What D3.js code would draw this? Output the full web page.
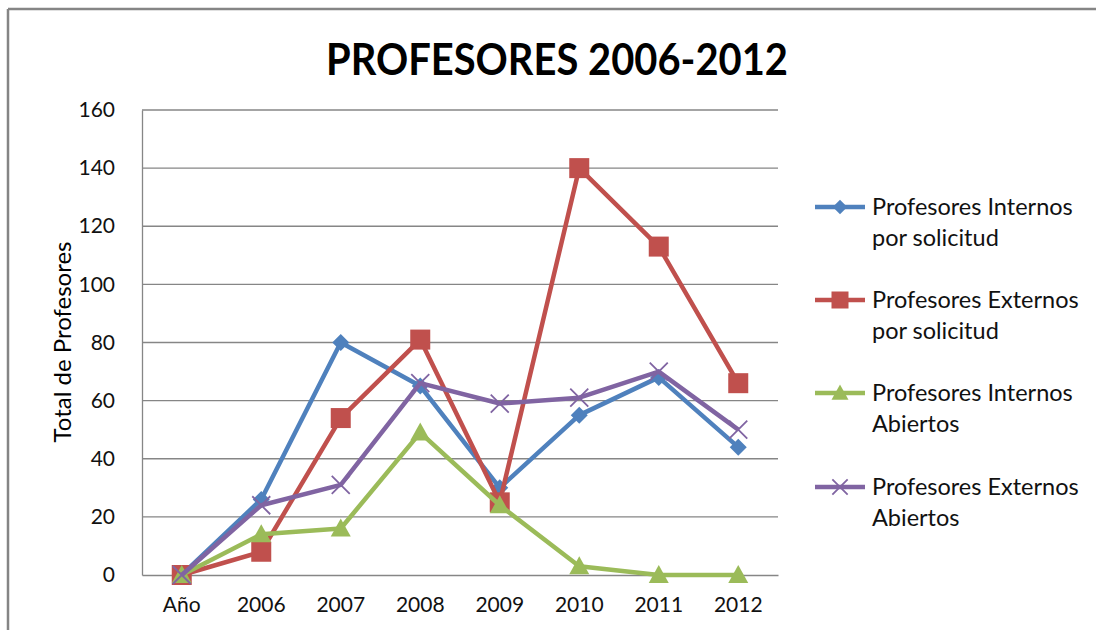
<!DOCTYPE html>
<html>
<head>
<meta charset="utf-8">
<script src="https://cdn.jsdelivr.net/npm/d3@7"></script>
<style>
  html, body { margin: 0; padding: 0; background: #fff; }
  svg { display: block; }
  text { font-family: Lato, "Open Sans", sans-serif; }
</style>
</head>
<body>
<script>
const categories = ["Año", "2006", "2007", "2008", "2009", "2010", "2011", "2012"];
const internosSolicitud = [0, 26, 80, 65, 30, 55, 68, 44];
const externosSolicitud = [0, 8, 54, 81, 25, 140, 113, 66];
const internosAbiertos = [0, 14, 16, 49, 24, 3, 0, 0];
const externosAbiertos = [0, 24, 31, 66, 59, 61, 70, 50];
const yTicks = [0, 20, 40, 60, 80, 100, 120, 140, 160];
const seriesNames = [
  ["Profesores Internos", "por solicitud"],
  ["Profesores Externos", "por solicitud"],
  ["Profesores Internos", "Abiertos"],
  ["Profesores Externos", "Abiertos"]
];
const seriesColors = ["#4F81BD", "#C0504D", "#9BBB59", "#8064A2"];
const seriesMarkers = ["diamond", "square", "triangle", "cross"];
const seriesValues = [internosSolicitud, externosSolicitud, internosAbiertos, externosAbiertos];

const W = 1096, H = 630;
const svg = d3.select("body").append("svg").attr("width", W).attr("height", H);

// chart frame (top + left borders visible)
svg.append("line").attr("x1", 8).attr("x2", W).attr("y1", 9).attr("y2", 9)
  .attr("stroke", "#858585").attr("stroke-width", 2.5);
svg.append("line").attr("x1", 8).attr("x2", 8).attr("y1", 9).attr("y2", H)
  .attr("stroke", "#858585").attr("stroke-width", 2.5);

const plot = { left: 142, right: 778, top: 110, bottom: 575 };

const x = d3.scaleBand().domain(categories).range([plot.left, plot.right]);
const y = d3.scaleLinear().domain([0, 160]).range([plot.bottom, plot.top]);
const cx = c => x(c) + x.bandwidth() / 2;

// title
svg.append("text")
  .attr("x", 557).attr("y", 75)
  .attr("text-anchor", "middle")
  .attr("font-size", 43).attr("font-weight", "bold").attr("fill", "#000")
  .attr("textLength", 462).attr("lengthAdjust", "spacingAndGlyphs")
  .text("PROFESORES 2006-2012");

// gridlines
svg.append("g").selectAll("line").data(yTicks.filter(d => d > 0)).join("line")
  .attr("x1", plot.left).attr("x2", plot.right)
  .attr("y1", d => y(d)).attr("y2", d => y(d))
  .attr("stroke", "#868686").attr("stroke-width", 1.3);

// y axis
const yAxis = svg.append("g").attr("transform", `translate(${plot.left},0)`)
  .call(d3.axisLeft(y).tickValues(yTicks).tickSize(0).tickPadding(27));
yAxis.select(".domain").attr("stroke", "#868686").attr("stroke-width", 1.3);
yAxis.selectAll("text").attr("font-size", 21).attr("fill", "#111")
  .attr("font-family", "Lato, sans-serif");

// x axis
const xAxis = svg.append("g").attr("transform", `translate(0,${plot.bottom})`)
  .call(d3.axisBottom(x).tickSize(0).tickPadding(22));
xAxis.select(".domain").attr("stroke", "#868686").attr("stroke-width", 1.3);
xAxis.selectAll("text").attr("font-size", 21).attr("fill", "#111")
  .attr("font-family", "Lato, sans-serif");

// y axis title
svg.append("text")
  .attr("transform", `translate(71,342) rotate(-90)`)
  .attr("text-anchor", "middle").attr("font-size", 24).attr("fill", "#000")
  .text("Total de Profesores");

function drawMarker(g, type, color, px, py, scale) {
  const s = scale || 1;
  if (type === "diamond") {
    const r = 8.5 * s;
    g.append("path").attr("d", `M${px},${py - r}L${px + r},${py}L${px},${py + r}L${px - r},${py}Z`)
      .attr("fill", color);
  } else if (type === "square") {
    const r = 10 * s;
    g.append("rect").attr("x", px - r).attr("y", py - r).attr("width", 2 * r).attr("height", 2 * r)
      .attr("fill", color);
  } else if (type === "triangle") {
    const r = 10 * s;
    g.append("path").attr("d", `M${px},${py - r}L${px + r},${py + r * 0.8}L${px - r},${py + r * 0.8}Z`)
      .attr("fill", color);
  } else if (type === "cross") {
    const r = 9 * s;
    g.append("path").attr("d", `M${px - r},${py - r}L${px + r},${py + r}M${px - r},${py + r}L${px + r},${py - r}`)
      .attr("stroke", color).attr("stroke-width", 1.8).attr("fill", "none");
  }
}

const line = d3.line().x((d, i) => cx(categories[i])).y(d => y(d));

seriesValues.forEach((vals, si) => {
  const g = svg.append("g");
  g.append("path").datum(vals).attr("d", line)
    .attr("fill", "none").attr("stroke", seriesColors[si]).attr("stroke-width", 4.5)
    .attr("stroke-linejoin", "round");
  vals.forEach((v, i) => drawMarker(g, seriesMarkers[si], seriesColors[si], cx(categories[i]), y(v)));
});

// legend
const legendY = [207, 300, 393, 487];
seriesNames.forEach((nm, si) => {
  const g = svg.append("g");
  const ly = legendY[si];
  g.append("line").attr("x1", 815).attr("x2", 865).attr("y1", ly).attr("y2", ly)
    .attr("stroke", seriesColors[si]).attr("stroke-width", 4.5);
  drawMarker(g, seriesMarkers[si], seriesColors[si], 840, ly, 0.85);
  g.append("text").attr("x", 872).attr("y", ly + 8).attr("font-size", 23.5).attr("fill", "#111")
    .text(nm[0]);
  g.append("text").attr("x", 872).attr("y", ly + 39).attr("font-size", 23.5).attr("fill", "#111")
    .text(nm[1]);
});
</script>
</body>
</html>
